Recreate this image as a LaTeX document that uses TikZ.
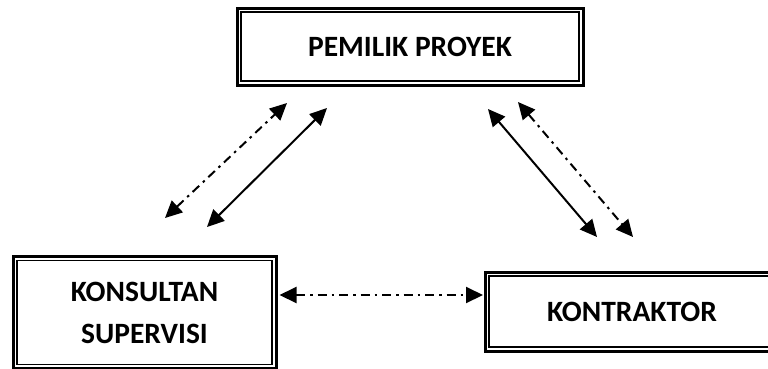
\documentclass[tikz,border=0pt]{standalone}
\usepackage{fontspec}
\setmainfont{Carlito}
\usetikzlibrary{arrows.meta}
\tikzset{
  dbox/.style={draw, line width=3pt, rectangle, inner sep=0pt, align=center,
    font=\fontsize{29.5}{42}\selectfont\bfseries},
  innerline/.style={line width=1.6pt},
  conn/.style={line width=2pt, {Triangle[length=17pt,width=16pt]}-{Triangle[length=17pt,width=16pt]}},
  dashdot/.style={conn, dash pattern=on 9pt off 5pt on 2.5pt off 5pt},
}
\begin{document}
\begin{tikzpicture}[x=1pt,y=-1pt]
\useasboundingbox (0,0) rectangle (768,368);
\clip (0,0) rectangle (768,368);
\node[dbox, minimum width=346pt, minimum height=77pt] (owner) at (410,46.5) {PEMILIK PROYEK};
\node[dbox, minimum width=263pt, minimum height=112pt] (cons) at (144.5,312.5) {KONSULTAN\\SUPERVISI};
\node[dbox, minimum width=294pt, minimum height=79pt] (contr) at (632,311.5) {KONTRAKTOR};
\foreach \n in {owner,cons,contr}{
  \draw[innerline] ([shift={(5.5pt,-5.5pt)}]\n.north west) rectangle ([shift={(-5.5pt,5.5pt)}]\n.south east);
}
% endpoints of floating connectors
\coordinate (l1a) at (165,218); \coordinate (l1b) at (287,103);
\coordinate (l2a) at (207,227); \coordinate (l2b) at (327,108);
\coordinate (r1a) at (488,109); \coordinate (r1b) at (597,237);
\coordinate (r2a) at (518,102); \coordinate (r2b) at (633,237);
\draw[dashdot] (l1a) -- (l1b);
\draw[conn] (l2a) -- (l2b);
\draw[conn] (r1a) -- (r1b);
\draw[dashdot] (r2a) -- (r2b);
\path (cons.east |- 0,295) ++(2pt,0) coordinate (hA) (contr.west |- 0,295) ++(-0.5pt,0) coordinate (hB);
\draw[dashdot] (hA) -- (hB);
\end{tikzpicture}
\end{document}
